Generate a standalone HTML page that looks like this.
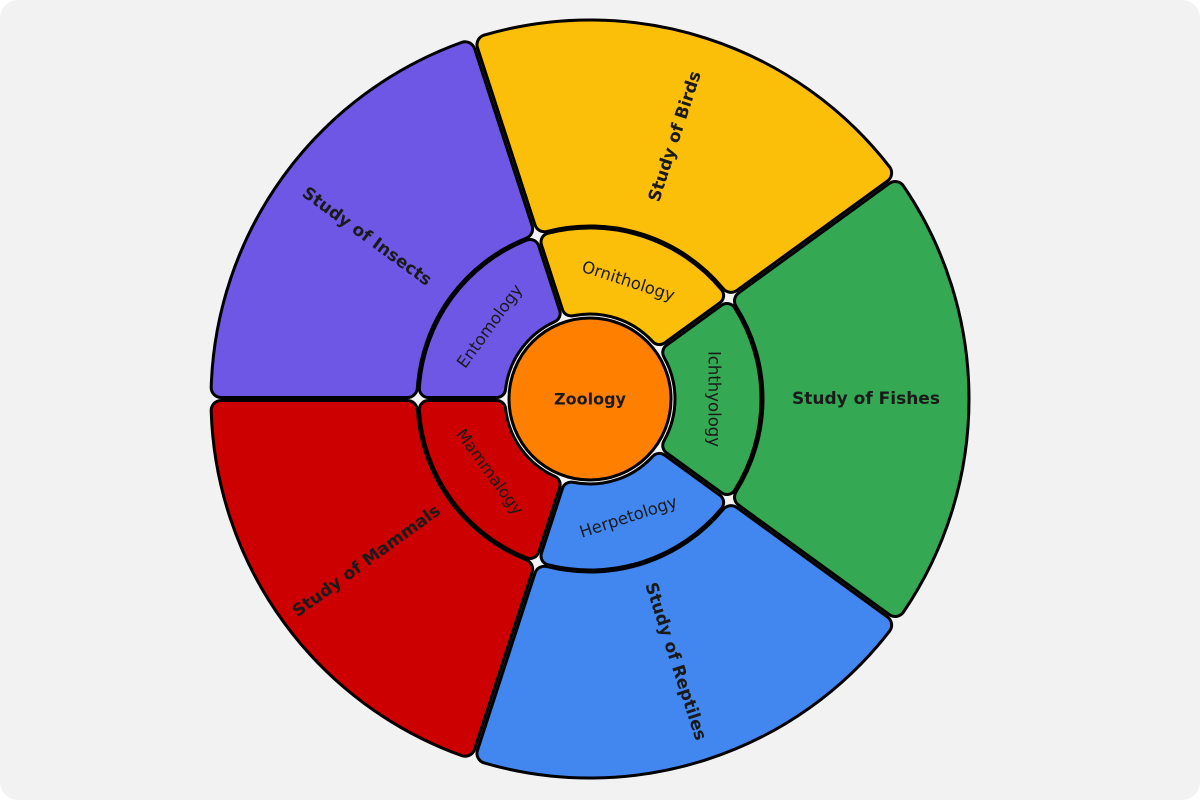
<!DOCTYPE html>
<html><head><meta charset="utf-8"><style>
html,body{margin:0;padding:0;background:#fff;}
#c{position:absolute;left:0;top:0;width:1200px;height:800px;background:#f2f2f2;border-radius:18px;}
text{font-family:"DejaVu Sans","Liberation Sans",sans-serif;fill:#1a1a1a;}
</style></head><body>
<div id="c"><svg id="s" width="1200" height="800" viewBox="0 0 1200 800"><g id="bk"></g><g id="fg"></g></svg></div>
<script>
const cx=590,cy=399,NS="http://www.w3.org/2000/svg",s=document.getElementById('s'),bk=document.getElementById('bk'),fg=document.getElementById('fg');
function P(a,r){const t=a*Math.PI/180;return [cx+r*Math.cos(t),cy-r*Math.sin(t)];}
function sector(a0,a1,r0,r1,fill,gap,rr){
 r0+=rr;r1-=rr;const G=gap+rr;
 const g0=G/r0*180/Math.PI,g1=G/r1*180/Math.PI;
 const p1=P(a0+g1,r1),p2=P(a1-g1,r1),p3=P(a1-g0,r0),p4=P(a0+g0,r0);
 const d=`M${p1} A${r1},${r1} 0 0 0 ${p2} L${p3} A${r0},${r0} 0 0 1 ${p4} Z`;
 for(const [st,w,par] of [['#000',2*rr+5,bk],[fill,2*rr-1,fg]]){
 const e=document.createElementNS(NS,'path');e.setAttribute('d',d);e.setAttribute('fill',fill);
 e.setAttribute('stroke',st);e.setAttribute('stroke-width',w);e.setAttribute('stroke-linejoin','round');par.appendChild(e);}}
function txt(x,y,rot,str,size,w){const e=document.createElementNS(NS,'text');
 e.setAttribute('x',x);e.setAttribute('y',y);e.setAttribute('text-anchor','middle');e.setAttribute('dominant-baseline','central');
 e.setAttribute('font-size',size);e.setAttribute('font-weight',w);e.setAttribute('transform',`rotate(${rot} ${x} ${y})`);e.textContent=str;s.appendChild(e);}
const segs=[
 {a:108,c:'#fbbf0a',o:'Study of Birds',i:'Ornithology',ro:-72,ri:18},
 {a:36,c:'#34a853',o:'Study of Fishes',i:'Ichthyology',ro:0,ri:90},
 {a:-36,c:'#4287f0',o:'Study of Reptiles',i:'Herpetology',ro:72,ri:-18},
 {a:-108,c:'#cc0000',o:'Study of Mammals',i:'Mammalogy',ro:-36,ri:54},
 {a:-180,c:'#6f57e6',o:'Study of Insects',i:'Entomology',ro:36,ri:-54}];
for(const g of segs){sector(g.a-72,g.a,174,378,g.c,2.5,9);}
for(const g of segs){sector(g.a-72,g.a,86,170,g.c,2.5,8);}
const c=document.createElementNS(NS,'circle');c.setAttribute('cx',cx);c.setAttribute('cy',cy);c.setAttribute('r',81);
c.setAttribute('fill','#ff7f00');c.setAttribute('stroke','#000');c.setAttribute('stroke-width','3');s.appendChild(c);
for(const g of segs){const m=g.a-36;let p=P(m,276);txt(p[0],p[1],g.ro,g.o,17,'bold');
 p=P(m,124);txt(p[0],p[1],g.ri,g.i,16.5,'normal');}
txt(cx,cy,0,'Zoology',16,'bold');
</script>
</body></html>
